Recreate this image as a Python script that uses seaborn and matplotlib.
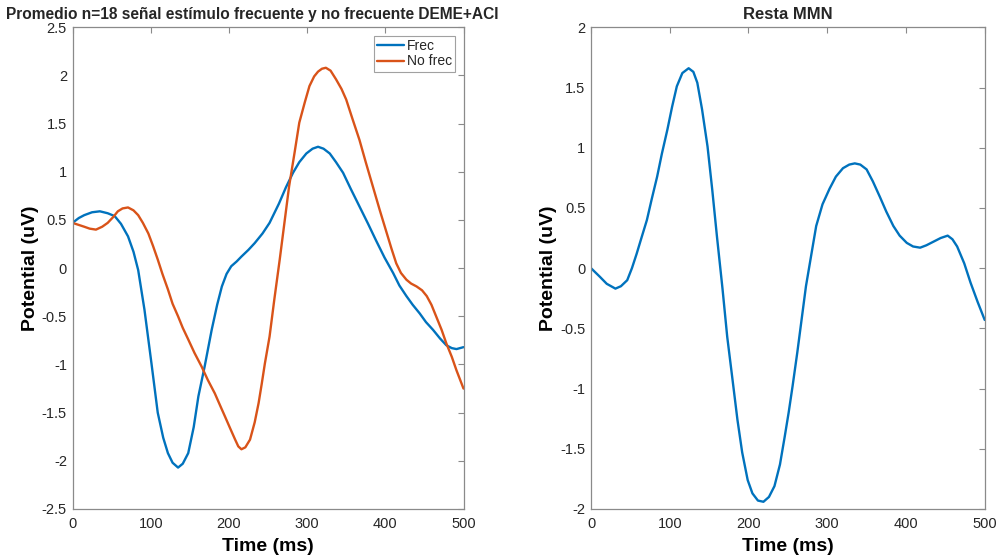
import numpy as np
import pandas as pd
import matplotlib
matplotlib.use("Agg")
import matplotlib.pyplot as plt
from matplotlib.ticker import FuncFormatter
import seaborn as sns

# ---- data ----
frec_t = [0, 8, 15, 25, 35, 45, 54, 62, 71, 78, 84, 92, 101, 109, 116, 122, 128,
          135, 141, 148, 155, 161, 169, 178, 185, 191, 197, 203, 210, 216, 225,
          233, 243, 252, 264, 273, 282, 290, 299, 307, 314, 321, 329, 337, 346,
          356, 367, 378, 388, 399, 410, 418, 427, 435, 444, 452, 461, 470, 478,
          485, 491, 500]
frec_v = [0.47, 0.52, 0.55, 0.58, 0.59, 0.57, 0.54, 0.46, 0.33, 0.17, -0.02,
          -0.43, -0.99, -1.50, -1.76, -1.92, -2.02, -2.07, -2.03, -1.92, -1.65,
          -1.33, -1.02, -0.64, -0.38, -0.19, -0.06, 0.02, 0.07, 0.12, 0.19, 0.26,
          0.36, 0.47, 0.67, 0.84, 0.99, 1.10, 1.19, 1.24, 1.26, 1.24, 1.19, 1.10,
          0.99, 0.82, 0.64, 0.46, 0.29, 0.11, -0.05, -0.18, -0.29, -0.38, -0.47,
          -0.56, -0.64, -0.73, -0.80, -0.83, -0.84, -0.82]

nofrec_t = [0, 15, 22, 30, 38, 45, 52, 58, 64, 71, 78, 84, 90, 97, 103, 109, 115,
            122, 128, 135, 141, 148, 156, 165, 173, 182, 189, 195, 202, 208, 212,
            216, 221, 227, 233, 238, 242, 246, 252, 258, 265, 271, 277, 284, 290,
            297, 303, 309, 314, 319, 324, 330, 337, 344, 350, 358, 367, 375, 384,
            393, 402, 408, 414, 420, 427, 433, 440, 447, 453, 459, 465, 472, 478,
            485, 491, 500]
nofrec_v = [0.47, 0.43, 0.41, 0.40, 0.43, 0.47, 0.53, 0.59, 0.62, 0.63, 0.60,
            0.55, 0.47, 0.36, 0.23, 0.09, -0.06, -0.22, -0.37, -0.50, -0.62, -0.74,
            -0.88, -1.02, -1.16, -1.30, -1.43, -1.54, -1.67, -1.78, -1.85, -1.88,
            -1.86, -1.78, -1.60, -1.40, -1.20, -0.99, -0.71, -0.33, 0.09, 0.47,
            0.85, 1.20, 1.51, 1.72, 1.89, 1.99, 2.04, 2.07, 2.08, 2.05, 1.96, 1.86,
            1.75, 1.55, 1.33, 1.10, 0.85, 0.60, 0.36, 0.20, 0.05, -0.05, -0.12,
            -0.16, -0.19, -0.23, -0.29, -0.38, -0.50, -0.64, -0.78, -0.92, -1.06,
            -1.25]

mmn_t = [0, 11, 20, 31, 38, 46, 52, 58, 64, 71, 77, 84, 90, 97, 103, 109, 116,
         124, 130, 135, 141, 148, 154, 160, 167, 173, 180, 186, 192, 199, 205,
         212, 219, 226, 233, 240, 246, 251, 256, 262, 268, 273, 280, 286, 294,
         303, 311, 320, 328, 335, 342, 350, 358, 367, 375, 384, 392, 401, 409,
         418, 426, 435, 444, 453, 459, 465, 474, 482, 491, 500]
mmn_v = [0.00, -0.07, -0.13, -0.17, -0.15, -0.10, 0.00, 0.12, 0.25, 0.40, 0.57,
         0.76, 0.95, 1.15, 1.34, 1.51, 1.62, 1.66, 1.63, 1.54, 1.32, 1.01, 0.65,
         0.26, -0.17, -0.57, -0.94, -1.26, -1.53, -1.76, -1.87, -1.93, -1.94,
         -1.90, -1.81, -1.63, -1.40, -1.20, -0.98, -0.70, -0.40, -0.15, 0.12, 0.35,
         0.53, 0.66, 0.76, 0.83, 0.86, 0.87, 0.86, 0.82, 0.72, 0.59, 0.47, 0.35,
         0.27, 0.21, 0.18, 0.17, 0.19, 0.22, 0.25, 0.27, 0.24, 0.18, 0.04, -0.12,
         -0.28, -0.43]

series_names = ["Frec", "No frec"]
left_title = "Promedio n=18 señal estímulo frecuente y no frecuente DEME+ACI"
right_title = "Resta MMN"
x_label = "Time (ms)"
y_label = "Potential (uV)"
x_ticks = [0, 100, 200, 300, 400, 500]
left_yticks = [-2.5, -2, -1.5, -1, -0.5, 0, 0.5, 1, 1.5, 2, 2.5]
right_yticks = [-2, -1.5, -1, -0.5, 0, 0.5, 1, 1.5, 2]

df_left = pd.concat([
    pd.DataFrame({"t": frec_t, "v": frec_v, "s": series_names[0]}),
    pd.DataFrame({"t": nofrec_t, "v": nofrec_v, "s": series_names[1]}),
], ignore_index=True)
df_right = pd.DataFrame({"t": mmn_t, "v": mmn_v})

# ---- style ----
sns.set_style("white")
plt.rcParams["font.family"] = ["Liberation Sans", "DejaVu Sans"]
blue = "#0072BD"
orange = "#D95319"
spine_c = "#8a8a8a"
text_c = "#262626"

fig = plt.figure(figsize=(9.97, 5.59), dpi=100)
ax1 = fig.add_axes([72.5 / 997, 1 - 509 / 559, 391 / 997, 481.7 / 559])
ax2 = fig.add_axes([591 / 997, 1 - 509 / 559, 393.7 / 997, 481.7 / 559])

sns.lineplot(data=df_left, x="t", y="v", hue="s", palette=[blue, orange],
             ax=ax1, linewidth=1.7, estimator=None, sort=False)
sns.lineplot(data=df_right, x="t", y="v", color=blue, ax=ax2,
             linewidth=1.7, estimator=None, sort=False)

fmt = FuncFormatter(lambda v, p: f"{v:g}")
for ax, yt in ((ax1, left_yticks), (ax2, right_yticks)):
    ax.set_xlim(0, 500)
    ax.set_ylim(yt[0], yt[-1])
    ax.set_xticks(x_ticks)
    ax.set_yticks(yt)
    ax.yaxis.set_major_formatter(fmt)
    ax.xaxis.set_major_formatter(fmt)
    ax.tick_params(direction="in", length=4, width=0.8, color=spine_c,
                   labelsize=10.5, labelcolor=text_c, top=True, right=True)
    ax.tick_params(axis="x", pad=6)
    ax.tick_params(axis="y", pad=4)
    for sp in ax.spines.values():
        sp.set_color(spine_c)
        sp.set_linewidth(0.9)
        sp.set_visible(True)
    ax.set_xlabel(x_label, fontsize=14, fontweight="bold", color="black", labelpad=5)
    ax.set_ylabel(y_label, fontsize=14, fontweight="bold", color="black", labelpad=2)

ax2.set_title(right_title, fontsize=12, fontweight="bold", color=text_c, pad=6)
fig.text(252 / 997, 1 - 15 / 559, left_title, ha="center", va="center",
         fontsize=11.2, fontweight="bold", color=text_c)

leg = ax1.legend(loc="upper right", fontsize=10, frameon=True, fancybox=False,
                 handlelength=1.9, handletextpad=0.2, borderpad=0.25,
                 labelspacing=0.1, borderaxespad=0.6, title=None)
leg.get_frame().set_edgecolor(spine_c)
leg.get_frame().set_linewidth(0.8)
for lh in leg.get_lines():
    lh.set_linewidth(1.7)

fig.savefig("out.png", dpi=100)
